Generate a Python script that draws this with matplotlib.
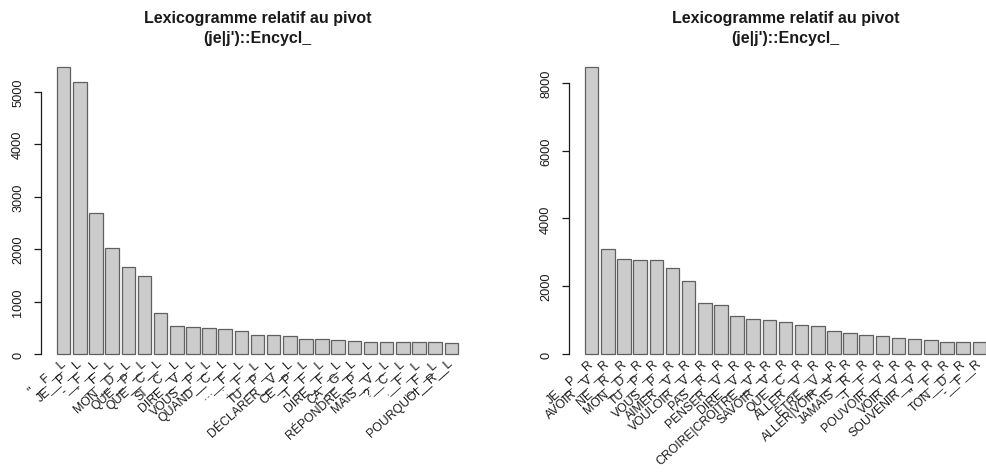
import matplotlib
matplotlib.use("Agg")
import matplotlib.pyplot as plt
import matplotlib.transforms as mtransforms

plt.rcParams['font.family'] = ['Liberation Sans', 'DejaVu Sans']

title_line1 = "Lexicogramme relatif au pivot"
title_line2 = "(je|j')::Encycl_"

left_labels = ['"__F__L', 'JE__P__L', '-__F__L', "'__F__L", 'MON__D__L',
               'QUE__P__L', 'QUE__C__L', 'SI__C__L', 'DIRE__V__L', 'VOUS__P__L',
               'QUAND__C__L', '…__F__L', ':__F__L', 'TU__P__L', 'DÉCLARER__V__L',
               'CE__P__L', '-T__F__L', 'DIRE__F__L', 'ÇA__G__L', 'RÉPONDRE__P__L',
               'MAIS__V__L', '?__C__L', '.__F__L', ',__F__L', 'POURQUOI__R__L']
left_values = [5480, 5180, 2690, 2030, 1650, 1490, 775, 540, 508, 495,
               476, 432, 362, 362, 340, 290, 288, 275, 240, 235,
               228, 226, 224, 220, 205]
left_ticks = [0, 1000, 2000, 3000, 4000, 5000]

right_labels = ['JE__P__R', 'AVOIR__V__R', 'NE__R__R', 'MON__D__R', 'TU__P__R',
                'VOUS__P__R', 'AIMER__V__R', 'VOULOIR__V__R', 'PAS__R__R', 'PENSER__V__R',
                'DIRE__V__R', 'CROIRE|CROÎTRE__V__R', 'SAVOIR__V__R', 'QUE__C__R', 'ALLER__V__R',
                'ÊTRE__V__R', 'ALLER|VOIR__V__R', 'JAMAIS__R__R', '-T__F__R', 'POUVOIR__V__R',
                'VOIR__V__R', 'SOUVENIR__V__R', '"__F__R', 'TON__D__R', '-__F__R']
right_values = [8480, 3090, 2790, 2770, 2760, 2530, 2160, 1500, 1450, 1130,
                1035, 995, 945, 850, 836, 690, 620, 560, 530, 470,
                430, 410, 365, 360, 345]
right_ticks = [0, 2000, 4000, 6000, 8000]

W, H = 986, 477
fig = plt.figure(figsize=(W / 100, H / 100), dpi=100)

FS = 8.8
TXT = '#1a1a1a'
XLIM = (-0.992, 31.192)


def panel(x0, labels, values, ticks):
    bottom_px, top_px = 369.5, 55.9
    ax = fig.add_axes([x0 / W, (H - bottom_px) / H, 433 / W, (bottom_px - top_px) / H])
    n = len(values)
    lefts = [0.2 + 1.2 * i for i in range(n)]
    ax.bar(lefts, values, width=1.0, align='edge', color='#CCCCCC',
           edgecolor='#606060', linewidth=0.9)
    vmax = max(values)
    lo, hi = -0.01 * vmax, vmax
    pad = 0.04 * (hi - lo)
    ax.set_ylim(lo - pad, hi + pad)
    ax.set_xlim(*XLIM)
    for s in ('top', 'right', 'bottom'):
        ax.spines[s].set_visible(False)
    ax.spines['left'].set_bounds(ticks[0], ticks[-1])
    ax.spines['left'].set_color(TXT)
    ax.spines['left'].set_linewidth(0.9)
    ax.set_xticks([])
    ax.set_yticks(ticks)
    ax.set_yticklabels([str(t) for t in ticks])
    ax.tick_params(axis='y', length=5.2, width=0.9, color=TXT, labelsize=9.2,
                   labelcolor=TXT, pad=7, labelrotation=90)
    for lab in ax.get_yticklabels():
        lab.set_va('center')
        lab.set_ha('right')
    ax.patch.set_alpha(0)
    off = mtransforms.offset_copy(ax.transData, fig=fig, x=0, y=-7, units='dots')
    for i, lab in enumerate(labels):
        xc = lefts[i] + 0.5
        ax.text(xc, 0, lab, rotation=42, ha='right', va='center',
                rotation_mode='anchor', fontsize=FS, color=TXT,
                transform=off, clip_on=False)
    cx = (x0 + 433 / 2) / W
    fig.text(cx, 1 - 19 / H, title_line1, ha='center', va='center',
             fontsize=11.5, fontweight='bold', color=TXT)
    fig.text(cx, 1 - 38 / H, title_line2, ha='center', va='center',
             fontsize=11.5, fontweight='bold', color=TXT)
    return ax


panel(41, left_labels, left_values, left_ticks)
panel(569, right_labels, right_values, right_ticks)

fig.savefig('out.png', dpi=100)
